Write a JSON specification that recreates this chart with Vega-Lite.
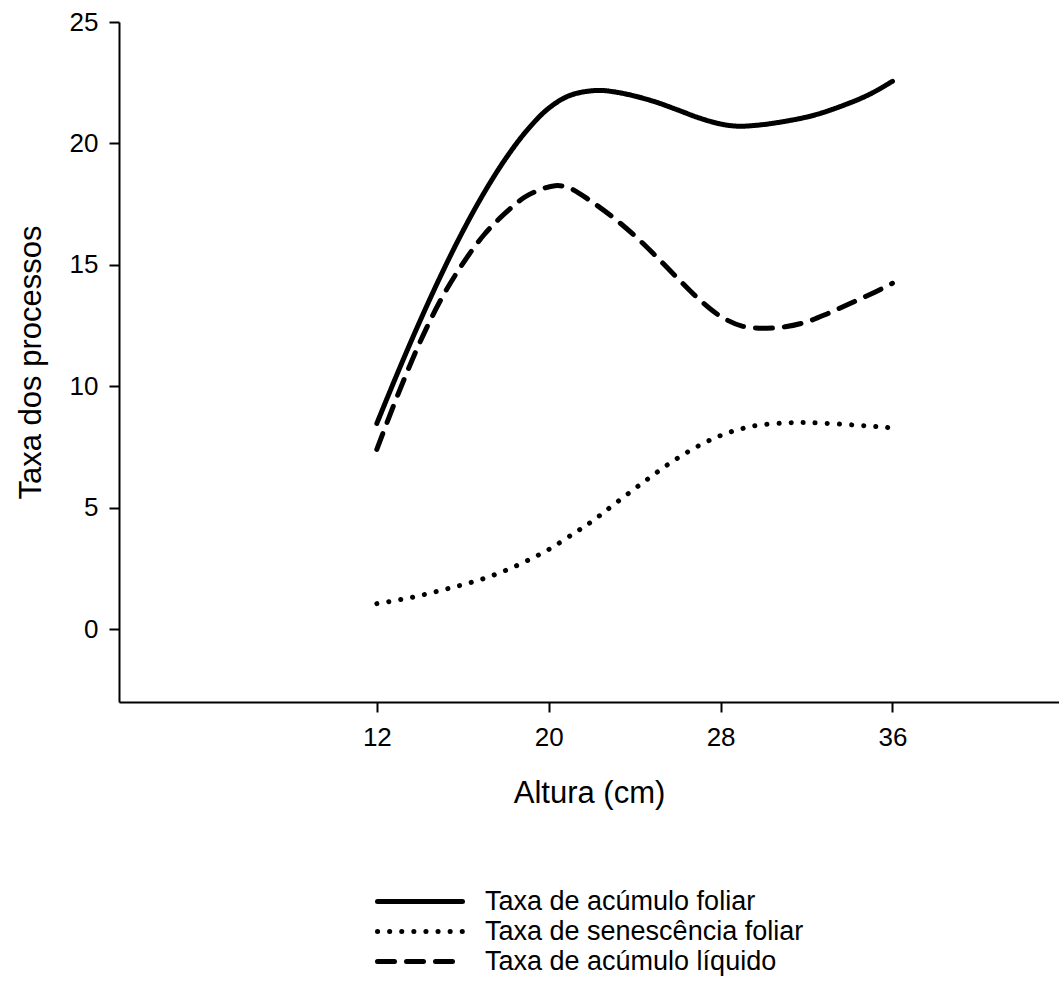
{
  "$schema": "https://vega.github.io/schema/vega-lite/v6.json",
  "width": 940,
  "height": 680,
  "autosize": {"type": "none"},
  "padding": {"left": 119, "top": 22, "right": 0, "bottom": 282},
  "background": "white",
  "config": {
    "font": "Liberation Sans",
    "view": {"stroke": null},
    "axis": {
      "domainColor": "black",
      "domainWidth": 2,
      "tickColor": "black",
      "tickWidth": 2,
      "tickSize": 10,
      "grid": false,
      "labelColor": "black",
      "labelFontSize": 26,
      "titleColor": "black",
      "titleFontSize": 31,
      "titleFontWeight": "normal"
    }
  },
  "data": {
    "values": [
      {"serie": "Taxa de acúmulo foliar", "altura": 12, "taxa": 8.47},
      {"serie": "Taxa de acúmulo foliar", "altura": 13, "taxa": 10.62},
      {"serie": "Taxa de acúmulo foliar", "altura": 14, "taxa": 12.67},
      {"serie": "Taxa de acúmulo foliar", "altura": 15, "taxa": 14.6},
      {"serie": "Taxa de acúmulo foliar", "altura": 16, "taxa": 16.38},
      {"serie": "Taxa de acúmulo foliar", "altura": 17, "taxa": 17.98},
      {"serie": "Taxa de acúmulo foliar", "altura": 18, "taxa": 19.38},
      {"serie": "Taxa de acúmulo foliar", "altura": 19, "taxa": 20.55},
      {"serie": "Taxa de acúmulo foliar", "altura": 20, "taxa": 21.45},
      {"serie": "Taxa de acúmulo foliar", "altura": 21, "taxa": 21.98},
      {"serie": "Taxa de acúmulo foliar", "altura": 22.2, "taxa": 22.18},
      {"serie": "Taxa de acúmulo foliar", "altura": 23, "taxa": 22.13},
      {"serie": "Taxa de acúmulo foliar", "altura": 24, "taxa": 21.95},
      {"serie": "Taxa de acúmulo foliar", "altura": 25, "taxa": 21.7},
      {"serie": "Taxa de acúmulo foliar", "altura": 26, "taxa": 21.38},
      {"serie": "Taxa de acúmulo foliar", "altura": 27, "taxa": 21.05},
      {"serie": "Taxa de acúmulo foliar", "altura": 28, "taxa": 20.8},
      {"serie": "Taxa de acúmulo foliar", "altura": 28.8, "taxa": 20.71},
      {"serie": "Taxa de acúmulo foliar", "altura": 29.7, "taxa": 20.75},
      {"serie": "Taxa de acúmulo foliar", "altura": 30.8, "taxa": 20.88},
      {"serie": "Taxa de acúmulo foliar", "altura": 32.3, "taxa": 21.15},
      {"serie": "Taxa de acúmulo foliar", "altura": 33.9, "taxa": 21.63},
      {"serie": "Taxa de acúmulo foliar", "altura": 35, "taxa": 22.05},
      {"serie": "Taxa de acúmulo foliar", "altura": 36, "taxa": 22.56},
      {"serie": "Taxa de senescência foliar", "altura": 12, "taxa": 1.05},
      {"serie": "Taxa de senescência foliar", "altura": 13, "taxa": 1.2},
      {"serie": "Taxa de senescência foliar", "altura": 14, "taxa": 1.38},
      {"serie": "Taxa de senescência foliar", "altura": 15, "taxa": 1.6},
      {"serie": "Taxa de senescência foliar", "altura": 16, "taxa": 1.83},
      {"serie": "Taxa de senescência foliar", "altura": 17, "taxa": 2.09},
      {"serie": "Taxa de senescência foliar", "altura": 18, "taxa": 2.42},
      {"serie": "Taxa de senescência foliar", "altura": 19, "taxa": 2.82},
      {"serie": "Taxa de senescência foliar", "altura": 20, "taxa": 3.28},
      {"serie": "Taxa de senescência foliar", "altura": 21.2, "taxa": 3.96},
      {"serie": "Taxa de senescência foliar", "altura": 22, "taxa": 4.43},
      {"serie": "Taxa de senescência foliar", "altura": 22.9, "taxa": 5.04},
      {"serie": "Taxa de senescência foliar", "altura": 24.5, "taxa": 6.11},
      {"serie": "Taxa de senescência foliar", "altura": 26.1, "taxa": 7.1},
      {"serie": "Taxa de senescência foliar", "altura": 27.8, "taxa": 7.9},
      {"serie": "Taxa de senescência foliar", "altura": 29.4, "taxa": 8.34},
      {"serie": "Taxa de senescência foliar", "altura": 31, "taxa": 8.49},
      {"serie": "Taxa de senescência foliar", "altura": 32.2, "taxa": 8.5},
      {"serie": "Taxa de senescência foliar", "altura": 34.3, "taxa": 8.4},
      {"serie": "Taxa de senescência foliar", "altura": 35.4, "taxa": 8.33},
      {"serie": "Taxa de senescência foliar", "altura": 36, "taxa": 8.28},
      {"serie": "Taxa de acúmulo líquido", "altura": 12, "taxa": 7.4},
      {"serie": "Taxa de acúmulo líquido", "altura": 13, "taxa": 9.7},
      {"serie": "Taxa de acúmulo líquido", "altura": 14, "taxa": 11.8},
      {"serie": "Taxa de acúmulo líquido", "altura": 15, "taxa": 13.6},
      {"serie": "Taxa de acúmulo líquido", "altura": 16, "taxa": 15.05},
      {"serie": "Taxa de acúmulo líquido", "altura": 17, "taxa": 16.25},
      {"serie": "Taxa de acúmulo líquido", "altura": 18, "taxa": 17.15},
      {"serie": "Taxa de acúmulo líquido", "altura": 19, "taxa": 17.85},
      {"serie": "Taxa de acúmulo líquido", "altura": 20.3, "taxa": 18.26},
      {"serie": "Taxa de acúmulo líquido", "altura": 21, "taxa": 18.15},
      {"serie": "Taxa de acúmulo líquido", "altura": 22, "taxa": 17.6},
      {"serie": "Taxa de acúmulo líquido", "altura": 23, "taxa": 16.95},
      {"serie": "Taxa de acúmulo líquido", "altura": 24, "taxa": 16.2},
      {"serie": "Taxa de acúmulo líquido", "altura": 25, "taxa": 15.35},
      {"serie": "Taxa de acúmulo líquido", "altura": 26, "taxa": 14.45},
      {"serie": "Taxa de acúmulo líquido", "altura": 27, "taxa": 13.58},
      {"serie": "Taxa de acúmulo líquido", "altura": 28, "taxa": 12.88},
      {"serie": "Taxa de acúmulo líquido", "altura": 29, "taxa": 12.48},
      {"serie": "Taxa de acúmulo líquido", "altura": 30.1, "taxa": 12.39},
      {"serie": "Taxa de acúmulo líquido", "altura": 31, "taxa": 12.45},
      {"serie": "Taxa de acúmulo líquido", "altura": 32, "taxa": 12.65},
      {"serie": "Taxa de acúmulo líquido", "altura": 33, "taxa": 13.0},
      {"serie": "Taxa de acúmulo líquido", "altura": 34, "taxa": 13.4},
      {"serie": "Taxa de acúmulo líquido", "altura": 35, "taxa": 13.8},
      {"serie": "Taxa de acúmulo líquido", "altura": 36, "taxa": 14.24}
    ]
  },
  "mark": {"type": "line", "interpolate": "catmull-rom", "strokeCap": "round", "strokeWidth": 5, "color": "black"},
  "encoding": {
    "x": {
      "field": "altura",
      "type": "quantitative",
      "scale": {"domain": [0, 43.75], "nice": false, "zero": false},
      "axis": {"values": [12, 20, 28, 36], "title": "Altura (cm)", "labelPadding": 12, "titlePadding": 28}
    },
    "y": {
      "field": "taxa",
      "type": "quantitative",
      "scale": {"domain": [-3, 25], "nice": false, "zero": false},
      "axis": {"values": [0, 5, 10, 15, 20, 25], "title": "Taxa dos processos", "labelPadding": 11, "titlePadding": 22}
    },
    "strokeDash": {
      "field": "serie",
      "type": "nominal",
      "scale": {
        "domain": ["Taxa de acúmulo foliar", "Taxa de senescência foliar", "Taxa de acúmulo líquido"],
        "range": [[1, 0], [0.1, 12], [17, 12]]
      },
      "legend": {
        "title": null,
        "orient": "none",
        "legendX": 256,
        "legendY": 866,
        "padding": 0,
        "symbolType": "stroke",
        "symbolSize": 7225,
        "symbolStrokeWidth": 5,
        "symbolStrokeColor": "black",
        "labelFontSize": 27,
        "labelColor": "black",
        "labelLimit": 0,
        "labelOffset": 20,
        "clipHeight": 27,
        "rowPadding": 2,
        "encode": {"symbols": {"update": {"strokeCap": {"value": "round"}}}}
      }
    }
  }
}
